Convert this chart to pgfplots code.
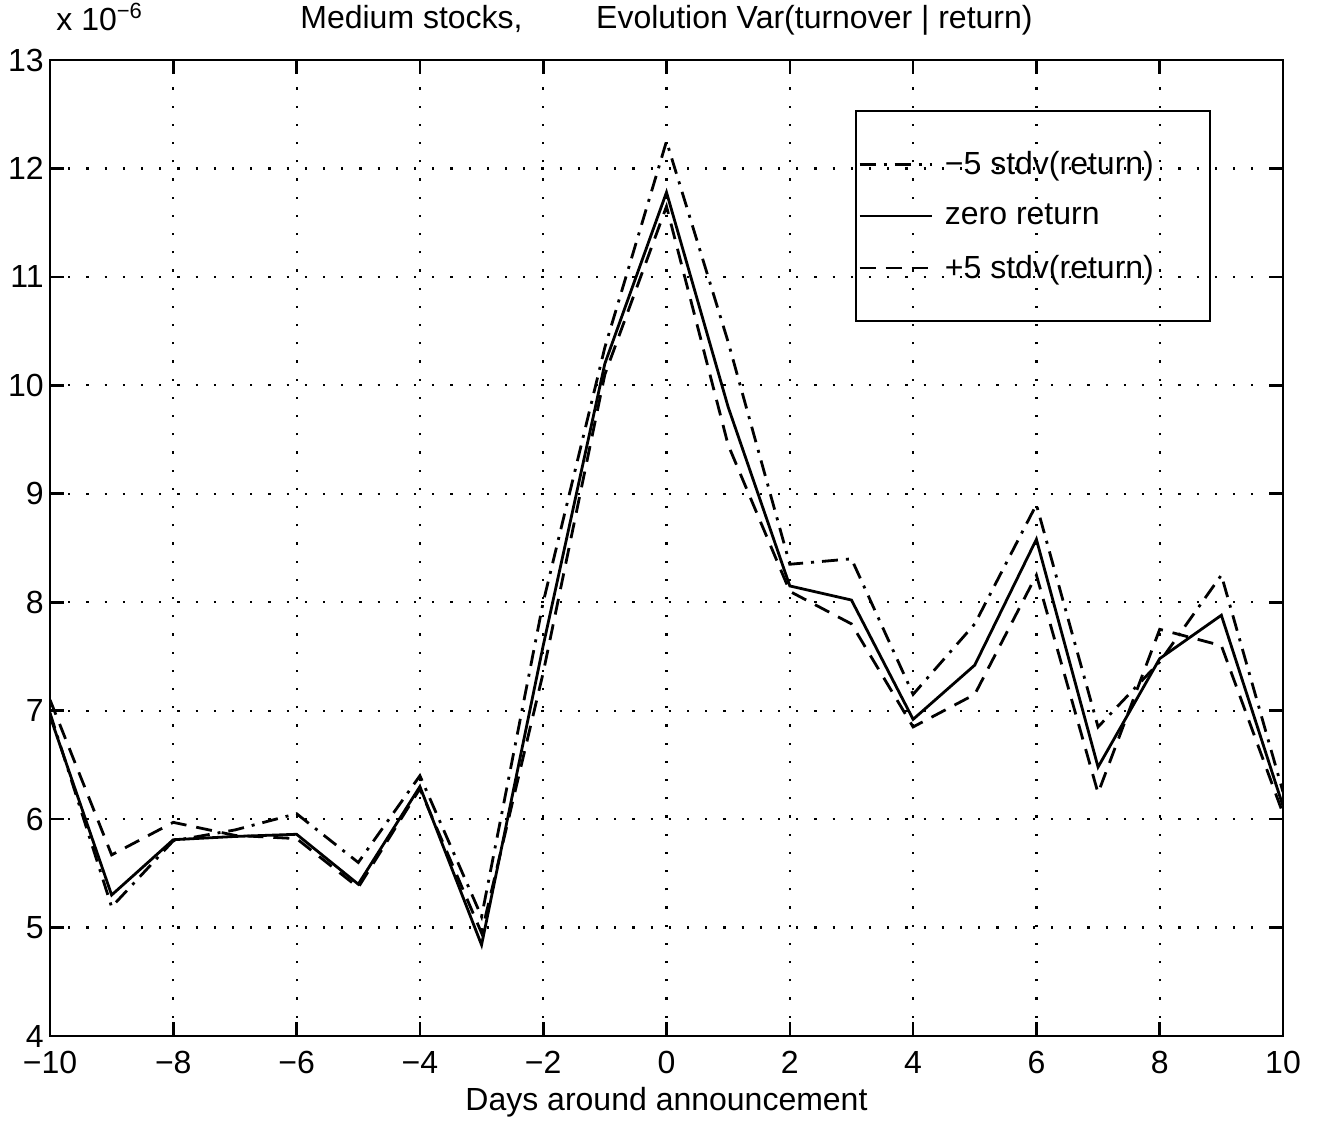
\documentclass[border=0pt]{standalone}
\usepackage{pgfplots}
\usepackage{pgfplotstable}
\pgfplotsset{compat=1.18}
\usepackage{fontspec}
\setmainfont{Liberation Sans}

\pgfplotstableread{
x    zero   dd     dh
-10  6.95   6.98   7.10
-9   5.30   5.19   5.67
-8   5.81   5.80   5.97
-7   5.84   5.90   5.85
-6   5.86   6.05   5.82
-5   5.40   5.60   5.37
-4   6.30   6.40   6.28
-3   4.84   5.10   4.95
-2   7.60   8.00   7.35
-1   10.20  10.35  10.10
0    11.78  12.25  11.65
1    9.80   10.40  9.45
2    8.15   8.35   8.10
3    8.02   8.40   7.80
4    6.92   7.15   6.85
5    7.42   7.80   7.15
6    8.58   8.90   8.25
7    6.48   6.85   6.24
8    7.48   7.45   7.75
9    7.88   8.25   7.60
10   6.12   6.25   6.05
}\data

\begin{document}
\begin{tikzpicture}
\begin{axis}[
  scale only axis, width=616.5pt, height=488pt,
  xmin=-10, xmax=10, ymin=4, ymax=13,
  xtick={-10,-8,-6,-4,-2,0,2,4,6,8,10},
  xticklabels={−10,−8,−6,−4,−2,0,2,4,6,8,10},
  ytick={4,5,6,7,8,9,10,11,12,13},
  yticklabels={4,5,6,7,8,9,10,11,12,13},
  tick align=inside, tick pos=both, major tick length=7pt,
  grid=major,
  grid style={black, line width=1.1pt, dash pattern=on 1.1pt off 8pt},
  axis line style={line width=1.3pt},
  every tick/.style={black, line width=1.3pt},
  tick label style={font=\fontsize{16}{19}\selectfont},
  xticklabel style={anchor=base, inner sep=0pt, yshift=-18.5pt},
  yticklabel style={anchor=east, inner sep=0pt, xshift=-3pt},
  xlabel={Days around announcement},
  xlabel style={at={(0.5,0)}, anchor=base, inner sep=0pt, yshift=-37pt, font=\fontsize{16}{19}\selectfont},
  title={Medium stocks,\hspace{2.3em}Evolution Var(turnover | return)},
  title style={at={(0.5,1)}, anchor=base, inner sep=0pt, yshift=9.5pt, font=\fontsize{16}{19}\selectfont},
  legend style={at={(0.9416,0.9488)}, anchor=north east, draw=black, line width=1.1pt,
    fill=none, inner xsep=1pt, inner ysep=18pt, row sep=9.5pt,
    font=\fontsize{16}{19}\selectfont, legend cell align=left},
  legend image code/.code={\draw[#1] (0pt,0pt) -- (36pt,0pt);},
]
\addplot[black, line width=1.4pt, dash pattern=on 8pt off 4pt on 1.5pt off 4pt] table[x=x,y=dd]{\data};
\addlegendentry{\hspace*{4pt}−5 stdv(return)\hspace*{25pt}\mbox{}}
\addplot[black, line width=1.4pt] table[x=x,y=zero]{\data};
\addlegendentry{\hspace*{4pt}zero return}
\addplot[black, line width=1.4pt, dash pattern=on 8pt off 5pt] table[x=x,y=dh]{\data};
\addlegendentry{\hspace*{4pt}+5 stdv(return)}
\end{axis}
\node[anchor=base west, font=\fontsize{16}{19}\selectfont, inner sep=0pt] at ([xshift=3pt,yshift=14.5pt]current axis.north west) {x 10\raisebox{6pt}{\fontsize{11}{13}\selectfont −6}};
\path ([xshift=-25pt,yshift=30pt]current axis.north west) rectangle ([xshift=19pt,yshift=-43.5pt]current axis.south east);
\end{tikzpicture}
\end{document}
